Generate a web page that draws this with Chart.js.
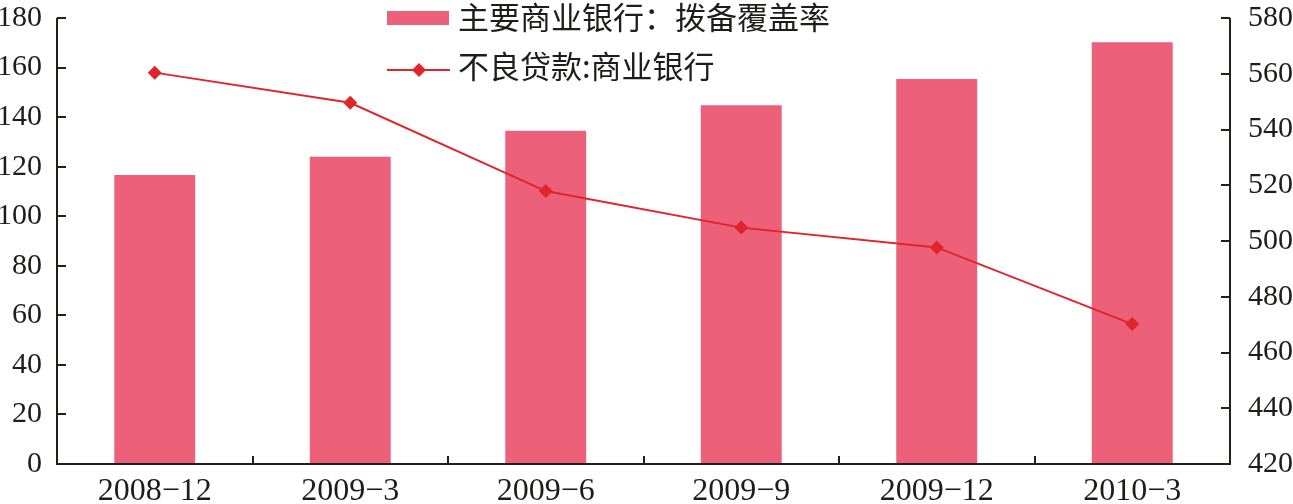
<!DOCTYPE html>
<html>
<head>
<meta charset="utf-8">
<script src="https://cdn.jsdelivr.net/npm/chart.js@4/dist/chart.umd.min.js"></script>
<style>
  html, body { margin: 0; padding: 0; background: #fff; }
  #wrap { width: 1293px; height: 504px; }
</style>
</head>
<body>
<div id="wrap"><canvas id="chart"></canvas></div>
<script>
const categories = ['2008\u221212', '2009\u22123', '2009\u22126', '2009\u22129', '2009\u221212', '2010\u22123'];
const coverageRatio = [116.6, 124.0, 134.5, 144.8, 155.4, 170.2];
const nplBanks = [560.4, 549.6, 517.9, 504.8, 497.7, 470.2];
const leftTicks = { min: 0, max: 180, step: 20 };
const rightTicks = { min: 420, max: 580, step: 20 };

const barLabel = '主要商业银行：拨备覆盖率';
const lineLabel = '不良贷款:商业银行';

const AXIS_COLOR = '#231f1a';
const TEXT_COLOR = '#1d1d1b';
const BAR_COLOR = '#ec6079';
const LINE_COLOR = '#e0242c';

// axis lines, inward ticks and the legend sitting inside the plot
const framePlugin = {
    id: 'frame',
    afterDraw(chart) {
        const ctx = chart.ctx;
        const area = chart.chartArea;
        const x = chart.scales.x;
        const y = chart.scales.y;
        const y1 = chart.scales.y1;

        ctx.save();
        ctx.strokeStyle = AXIS_COLOR;
        ctx.lineWidth = 2;
        ctx.beginPath();
        ctx.moveTo(area.left, area.top);
        ctx.lineTo(area.left, area.bottom);
        ctx.lineTo(area.right, area.bottom);
        ctx.lineTo(area.right, area.top);
        ctx.stroke();

        ctx.beginPath();
        y.ticks.forEach(t => {
            const py = Math.round(y.getPixelForValue(t.value));
            ctx.moveTo(area.left, py);
            ctx.lineTo(area.left + 9, py);
        });
        y1.ticks.forEach(t => {
            const py = Math.round(y1.getPixelForValue(t.value));
            ctx.moveTo(area.right, py);
            ctx.lineTo(area.right - 9, py);
        });
        const step = (x.getPixelForValue(1) - x.getPixelForValue(0));
        for (let i = 1; i < categories.length; i++) {
            const px = Math.round(x.getPixelForValue(i) - step / 2);
            ctx.moveTo(px, area.bottom);
            ctx.lineTo(px, area.bottom - 8);
        }
        ctx.stroke();

        // legend
        const lx = 387, tx = 458;
        ctx.fillStyle = chart.data.datasets[0].backgroundColor;
        ctx.fillRect(lx, 11, 62, 14);

        ctx.strokeStyle = LINE_COLOR;
        ctx.lineWidth = 2;
        ctx.beginPath();
        ctx.moveTo(lx, 70);
        ctx.lineTo(lx + 63, 70);
        ctx.stroke();
        ctx.fillStyle = LINE_COLOR;
        ctx.beginPath();
        ctx.moveTo(419, 63);
        ctx.lineTo(426, 70);
        ctx.lineTo(419, 77);
        ctx.lineTo(412, 70);
        ctx.closePath();
        ctx.fill();

        ctx.fillStyle = TEXT_COLOR;
        ctx.font = '31px "Noto Sans CJK SC"';
        ctx.textBaseline = 'middle';
        ctx.textAlign = 'left';
        ctx.fillText(chart.data.datasets[0].label, tx, 17);
        ctx.fillText(chart.data.datasets[1].label, tx, 66);
        ctx.restore();
    }
};

const serif = '"Liberation Serif", "Times New Roman", serif';
const tickFont = { family: serif, size: 30 };

function fixVertical(width) {
    return scale => {
        scale.width = width;
        scale.paddingTop = 0;
        scale.paddingBottom = 0;
    };
}

new Chart(document.getElementById('chart').getContext('2d'), {
    type: 'bar',
    data: {
        labels: categories,
        datasets: [
            {
                type: 'bar',
                label: barLabel,
                data: coverageRatio,
                backgroundColor: BAR_COLOR,
                yAxisID: 'y',
                barPercentage: 0.414,
                categoryPercentage: 1,
                order: 2
            },
            {
                type: 'line',
                label: lineLabel,
                data: nplBanks,
                borderColor: LINE_COLOR,
                backgroundColor: LINE_COLOR,
                borderWidth: 2,
                pointStyle: 'rectRot',
                pointRadius: 7,
                pointBorderWidth: 0,
                tension: 0,
                yAxisID: 'y1',
                order: 1
            }
        ]
    },
    options: {
        responsive: true,
        maintainAspectRatio: false,
        animation: false,
        devicePixelRatio: 1,
        layout: { padding: { top: 18, left: 0, right: 0, bottom: 0 } },
        plugins: {
            legend: { display: false },
            tooltip: { enabled: false }
        },
        scales: {
            x: {
                grid: { display: false, drawTicks: false },
                border: { display: false },
                ticks: { font: { family: serif, size: 32 }, color: TEXT_COLOR, padding: 8, maxRotation: 0, autoSkip: false },
                afterFit: scale => { scale.height = 40; }
            },
            y: {
                position: 'left',
                min: leftTicks.min,
                max: leftTicks.max,
                grid: { display: false, drawTicks: false },
                border: { display: false },
                ticks: { stepSize: leftTicks.step, font: tickFont, color: TEXT_COLOR, padding: 15 },
                afterFit: fixVertical(57)
            },
            y1: {
                position: 'right',
                min: rightTicks.min,
                max: rightTicks.max,
                grid: { display: false, drawTicks: false },
                border: { display: false },
                ticks: { stepSize: rightTicks.step, font: tickFont, color: TEXT_COLOR, padding: 18 },
                afterFit: fixVertical(63)
            }
        }
    },
    plugins: [framePlugin]
});
</script>
</body>
</html>
